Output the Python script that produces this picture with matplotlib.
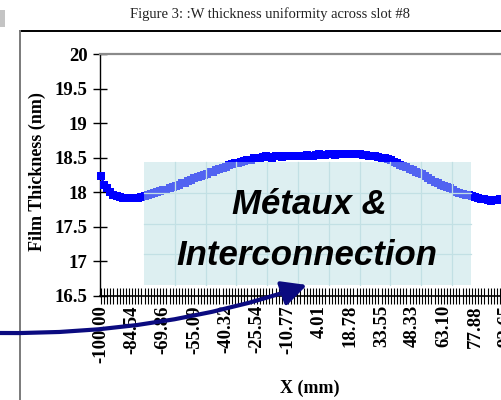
import matplotlib
matplotlib.use("Agg")
import matplotlib.pyplot as plt
from matplotlib.path import Path
from matplotlib.patches import FancyArrowPatch, Rectangle, ArrowStyle

# ---------------- data ----------------
thickness = [
    18.24, 18.11, 18.06, 18.00, 17.96, 17.94, 17.93, 17.92, 17.92, 17.92,
    17.92, 17.92, 17.92, 17.93, 17.94, 17.96, 17.98, 17.99, 18.01, 18.02,
    18.04, 18.04, 18.06, 18.07, 18.09, 18.11, 18.13, 18.14, 18.16, 18.18,
    18.20, 18.22, 18.24, 18.25, 18.27, 18.29, 18.30, 18.32, 18.34, 18.35,
    18.37, 18.39, 18.41, 18.42, 18.43, 18.44, 18.45, 18.46, 18.47, 18.49,
    18.50, 18.50, 18.51, 18.52, 18.51, 18.50, 18.52, 18.52, 18.51, 18.52,
    18.53, 18.52, 18.52, 18.53, 18.52, 18.53, 18.54, 18.53, 18.53, 18.54,
    18.55, 18.54, 18.54, 18.55, 18.55, 18.54, 18.56, 18.56, 18.55, 18.56,
    18.56, 18.55, 18.55, 18.56, 18.54, 18.54, 18.53, 18.53, 18.52, 18.51,
    18.50, 18.49, 18.48, 18.46, 18.44, 18.42, 18.40, 18.38, 18.36, 18.34,
    18.32, 18.30, 18.28, 18.26, 18.23, 18.20, 18.18, 18.15, 18.13, 18.11,
    18.09, 18.07, 18.06, 18.03, 18.01, 17.99, 17.97, 17.96, 17.96, 17.94,
    17.93, 17.92, 17.91, 17.90, 17.89, 17.88, 17.89, 17.89, 17.90, 17.91,
    17.92, 17.94, 17.97, 18.02, 18.10, 18.22,
]
x_tick_labels = ["-100.00", "-84.54", "-69.86", "-55.09", "-40.32", "-25.54",
                 "-10.77", "4.01", "18.78", "33.55", "48.33", "63.10",
                 "77.88", "92.65"]
y_ticks = [16.5, 17, 17.5, 18, 18.5, 19, 19.5, 20]
y_tick_labels = ["16.5", "17", "17.5", "18", "18.5", "19", "19.5", "20"]
label_every = 10

title = "Figure 3: :W thickness uniformity across slot #8"
ylabel = "Film Thickness (nm)"
xlabel = "X (mm)"
overlay_lines = ["Métaux &", "Interconnection"]

# ---------------- figure ----------------
W, H = 501, 400
fig = plt.figure(figsize=(W / 100, H / 100), dpi=100)
fig.patch.set_facecolor("white")

ax_left, ax_right, ax_top, ax_bot = 100, 523.4, 54, 296
ax = fig.add_axes([ax_left / W, 1 - ax_bot / H,
                   (ax_right - ax_left) / W, (ax_bot - ax_top) / H])

idx = list(range(len(thickness)))
ax.plot(idx, thickness, color="#0000FF", lw=1.8, marker="s", ms=5.4,
        mew=0, zorder=3, clip_on=False)

ax.set_xlim(-0.3, 135.5)
ax.set_ylim(16.5, 20)

xt_labels = []
for i in idx:
    if i % label_every == 0 and i // label_every < len(x_tick_labels):
        xt_labels.append(x_tick_labels[i // label_every])
    else:
        xt_labels.append("")
ax.set_xticks(idx)
ax.set_xticklabels(xt_labels, rotation=90, fontfamily="Liberation Serif",
                   fontweight="bold", fontsize=13.5)
ax.set_yticks(y_ticks)
ax.set_yticklabels(y_tick_labels, fontfamily="Liberation Serif",
                   fontweight="bold", fontsize=13.5)
ax.tick_params(axis="x", direction="inout", length=11, width=0.8, pad=1,
               colors="black")
ax.tick_params(axis="y", direction="inout", length=10, width=1.0, pad=4,
               colors="black")

ax.spines["right"].set_visible(False)
ax.spines["top"].set_color("#8a8a8a")
ax.spines["top"].set_linewidth(1.6)
ax.spines["left"].set_color("black")
ax.spines["left"].set_linewidth(1.0)
ax.spines["bottom"].set_color("black")
ax.spines["bottom"].set_linewidth(1.2)

# ---------------- overlay (pixel coordinates) ----------------
ov = fig.add_axes([0, 0, 1, 1])
ov.set_xlim(0, W)
ov.set_ylim(H, 0)
ov.axis("off")
ov.patch.set_alpha(0)

# outer frame lines
ov.plot([20, W], [31, 31], color="black", lw=1.4)
ov.plot([20, 20], [31, H], color="#7a7a7a", lw=1.4)
ov.add_patch(Rectangle((0, 10), 5, 17, color="#c4c4c4", lw=0))

# titles / labels
ov.text(270, 14, title, family="Liberation Serif", fontsize=10.5,
        ha="center", va="center", color="#222222")
ov.text(37, 172, ylabel, family="Liberation Serif", fontweight="bold",
        fontsize=13, rotation=90, ha="center", va="center")
ov.text(310, 388, xlabel, family="Liberation Serif", fontweight="bold",
        fontsize=13, ha="center", va="center")

# translucent box with grid
bx0, bx1, by0, by1 = 144, 471.5, 162, 284.5
ov.add_patch(Rectangle((bx0, by0), bx1 - bx0, by1 - by0,
                       facecolor=(180 / 255, 220 / 255, 224 / 255),
                       alpha=0.45, lw=0, zorder=2))
step = 30.8
gx = bx0 + step
while gx < bx1 - 2:
    ov.plot([gx, gx], [by0, by1], color="#c2e0e4", lw=0.9, zorder=2.1)
    gx += step
gy = by0 + step
while gy < by1 - 2:
    ov.plot([bx0, bx1], [gy, gy], color="#c2e0e4", lw=0.9, zorder=2.1)
    gy += step

ov.text(309, 214, overlay_lines[0], family="Liberation Sans",
        fontweight="bold", fontstyle="italic", fontsize=25,
        ha="center", va="baseline", color="black", zorder=3)
ov.text(307, 265, overlay_lines[1], family="Liberation Sans",
        fontweight="bold", fontstyle="italic", fontsize=25,
        ha="center", va="baseline", color="black", zorder=3)

# curved arrow
arrow_path = Path([(0, 333), (160, 335), (307, 285)],
                  [Path.MOVETO, Path.CURVE3, Path.CURVE3])
arr = FancyArrowPatch(path=arrow_path,
                      arrowstyle=ArrowStyle("-|>", head_length=1.5,
                                            head_width=0.75),
                      mutation_scale=10, color="#0b0b80", lw=3.0,
                      shrinkA=0, shrinkB=0, zorder=4)
ov.add_patch(arr)

fig.savefig("out.png", dpi=100)
